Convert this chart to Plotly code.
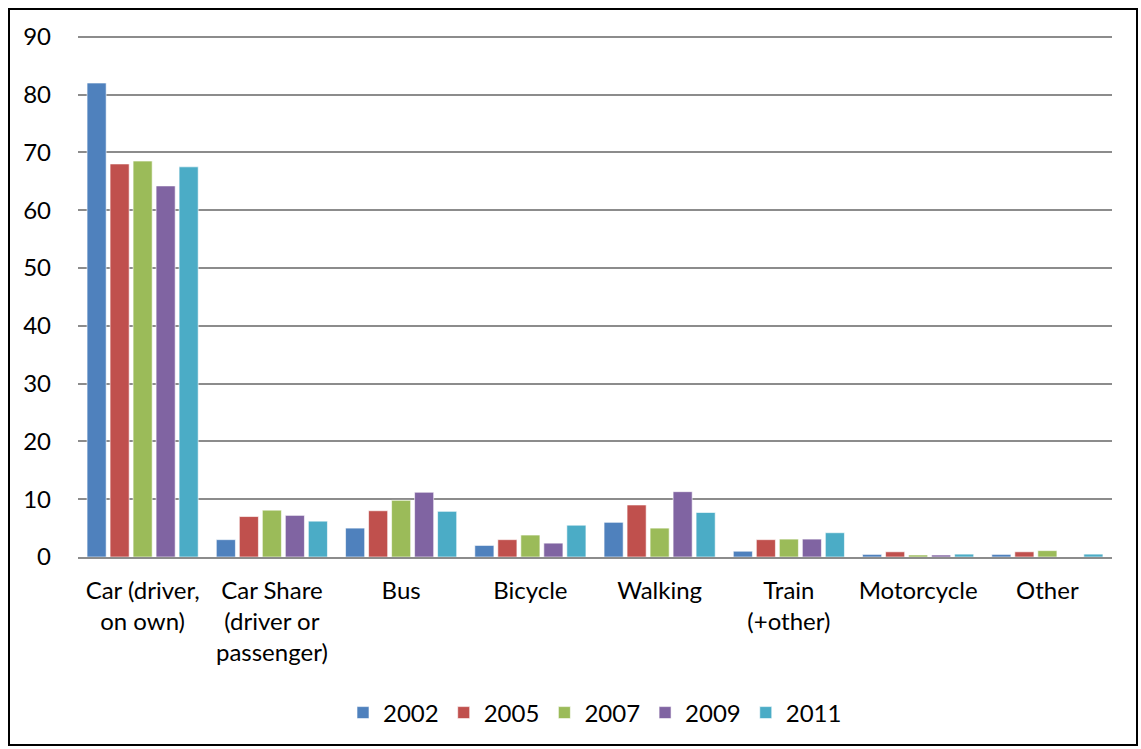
import plotly.graph_objects as go

categories = [
    "Car (driver,<br>on own)",
    "Car Share<br>(driver or<br>passenger)",
    "Bus",
    "Bicycle",
    "Walking",
    "Train<br>(+other)",
    "Motorcycle",
    "Other",
]

years = ["2002", "2005", "2007", "2009", "2011"]

values_2002 = [82.0, 3.0, 5.0, 2.0, 6.0, 1.0, 0.45, 0.45]
values_2005 = [68.0, 7.0, 8.0, 3.0, 9.0, 3.0, 0.9, 0.9]
values_2007 = [68.5, 8.1, 9.8, 3.8, 5.0, 3.1, 0.35, 1.1]
values_2009 = [64.2, 7.2, 11.2, 2.4, 11.3, 3.1, 0.35, 0.0]
values_2011 = [67.5, 6.2, 7.9, 5.5, 7.7, 4.2, 0.5, 0.5]

series = [values_2002, values_2005, values_2007, values_2009, values_2011]
colors = ["#4F81BD", "#C0504D", "#9BBB59", "#8064A2", "#4BACC6"]

font_family = "Lato, 'Open Sans', sans-serif"

# plot area geometry in pixels (used for the outer frame)
plot_left, plot_bottom = 78, 557
plot_w, plot_h = 1034, 526

fig = go.Figure()
for year, vals, col in zip(years, series, colors):
    fig.add_trace(go.Bar(
        x=categories,
        y=vals,
        name=year,
        marker=dict(color=col, line=dict(color="rgba(255,255,255,0.6)", width=1)),
    ))

fig.update_layout(
    width=1141,
    height=749,
    barmode="group",
    bargap=0.11,
    bargroupgap=0.17,
    plot_bgcolor="white",
    paper_bgcolor="white",
    margin=dict(l=78, r=29, t=31, b=192),
    font=dict(family=font_family, size=24, color="#000000"),
    showlegend=True,
    legend=dict(
        orientation="h",
        x=0.5, xanchor="center",
        y=(plot_bottom - 713) / plot_h, yanchor="middle",
        font=dict(size=24),
        itemwidth=30,
        traceorder="normal",
    ),
    xaxis=dict(
        showline=True,
        linecolor="#8C8C8C",
        linewidth=2,
        ticks="",
        tickfont=dict(size=24),
        ticklabelstandoff=11,
    ),
    yaxis=dict(
        range=[0, 91],
        tickvals=list(range(0, 91, 10)),
        showgrid=True,
        gridcolor="#8C8C8C",
        gridwidth=2,
        zeroline=False,
        showline=False,
        ticks="",
        tickfont=dict(size=24),
        ticklabelstandoff=26,
    ),
    shapes=[
        dict(
            type="rect", xref="paper", yref="paper",
            x0=(9 - plot_left) / plot_w, x1=(1137 - plot_left) / plot_w,
            y0=(plot_bottom - 745) / plot_h, y1=(plot_bottom - 9) / plot_h,
            line=dict(color="#000000", width=2),
            fillcolor="rgba(0,0,0,0)",
            layer="below",
        )
    ],
)

fig.write_html("out.html")
